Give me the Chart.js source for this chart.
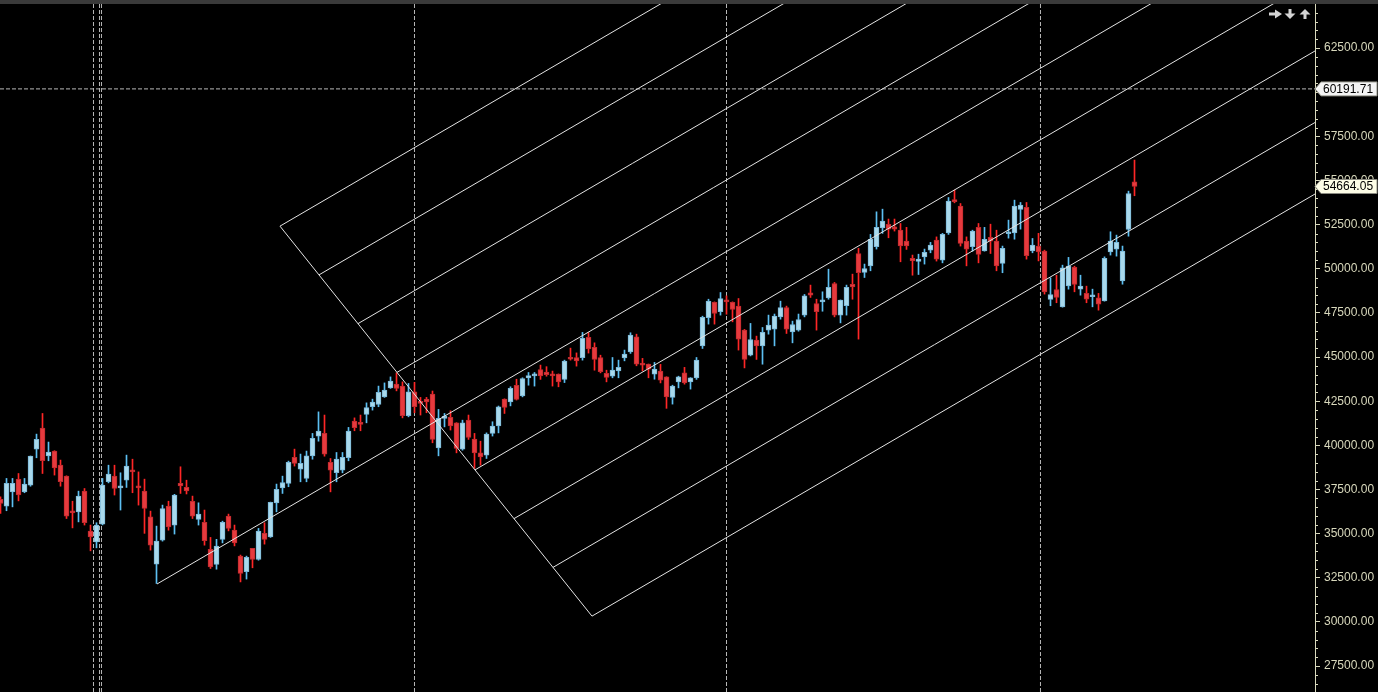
<!DOCTYPE html>
<html>
<head>
<meta charset="utf-8">
<script src="https://cdn.jsdelivr.net/npm/chart.js@4.4.1/dist/chart.umd.min.js"></script>
<style>
    html, body { margin: 0; padding: 0; background: #000; }
    #wrap { width: 1378px; height: 692px; }
</style>
</head>
<body>
<div id="wrap"><canvas id="priceChart" width="1378" height="692"></canvas></div>
<script>
// Candles, one per bar index 0..189
const OPEN = [
    36940, 36560, 37370, 38090, 37370, 37750, 39790, 40980, 39410, 39680,
    38880, 38260, 36300, 36240, 37410, 35150, 34540, 35540, 37940, 38260,
    37600, 38030, 38600, 37690, 37410, 35960, 33280, 34640, 36560, 35490,
    37850, 37620, 36840, 35810, 35640, 34110, 33260, 34680, 36000, 35200,
    33730, 32850, 34170, 33540, 35020, 34820, 36750, 37600, 37850, 39320,
    38660, 38130, 39410, 40530, 40680, 39040, 38450, 38600, 39300, 41380,
    41260, 41760, 42190, 42320, 42750, 43260, 43470, 43360, 41680, 43040,
    42470, 42620, 42910, 39860, 41530, 41590, 41280, 39790, 41430, 40360,
    39580, 39450, 40680, 41110, 42620, 42470, 43410, 42810, 43830, 43940,
    44300, 44150, 44040, 44040, 43740, 44980, 44980, 44970, 46120, 45550,
    44980, 44080, 43920, 44220, 44960, 45300, 46150, 44640, 44600, 44040,
    44210, 43880, 42720, 43600, 44110, 43600, 43830, 45640, 47230, 48100,
    47570, 48230, 48100, 47890, 46530, 45110, 45960, 45640, 46530, 46590,
    47280, 47810, 46430, 46530, 47380, 48640, 48040, 48130, 48360, 49170,
    47380, 47910, 49130, 50870, 49800, 50170, 51250, 52320, 52520, 52380,
    52190, 51570, 50590, 50420, 50680, 51060, 51630, 50490, 52040, 53930,
    53550, 51570, 51250, 52350, 51020, 51780, 51570, 50310, 51990, 52040,
    53370, 53480, 51020, 51290, 51000, 48270, 48830, 47850, 49040, 50080,
    48850, 48610, 48420, 48360, 48190, 50960, 51120, 49320, 52230, 54930
];
const HIGH = [
    37090, 38130, 38130, 38410, 38130, 39400, 40640, 41810, 40190, 39700,
    39170, 38280, 36840, 37410, 37560, 35490, 35620, 38130, 38880, 38880,
    38450, 39450, 39220, 38500, 38090, 36280, 35430, 36620, 36840, 37230,
    38790, 38030, 37130, 36750, 36340, 34790, 34680, 35710, 36110, 35490,
    33790, 33730, 34170, 35300, 35620, 36790, 37810, 38260, 39110, 39790,
    39510, 39680, 40680, 41900, 41720, 39260, 39600, 39600, 41020, 41560,
    41720, 42410, 42620, 43360, 43540, 43880, 44110, 43600, 43510, 43570,
    42720, 42720, 43080, 42040, 41810, 41960, 41290, 41430, 41720, 40680,
    40240, 40710, 41340, 42230, 42640, 43320, 43750, 43830, 44130, 44130,
    44550, 44460, 44210, 44050, 44830, 45510, 45240, 46400, 46390, 45810,
    45110, 44260, 44980, 44830, 45400, 46380, 46300, 44930, 44610, 44700,
    44590, 43890, 43410, 43920, 44420, 43840, 44980, 47320, 48280, 48130,
    48660, 48470, 48130, 48320, 46570, 46910, 46190, 46680, 47380, 47440,
    48170, 47890, 47040, 47440, 48550, 49080, 48280, 48700, 49980, 49230,
    48240, 49080, 49700, 51160, 50270, 51950, 53230, 53380, 52820, 52820,
    52570, 52350, 50780, 50830, 51120, 51500, 51810, 52010, 54040, 54460,
    53700, 51810, 52190, 52570, 52350, 52530, 52190, 51290, 52760, 53890,
    53760, 53760, 51720, 52010, 51060, 49490, 49640, 50210, 50650, 50150,
    49640, 49020, 48850, 48610, 50680, 52100, 51910, 51290, 54400, 56160
];
const LOW = [
    36150, 36300, 36520, 36860, 37320, 37690, 39300, 38410, 39130, 38320,
    37690, 35860, 35330, 35670, 35490, 34030, 34200, 35500, 37880, 37190,
    36340, 37620, 37320, 36620, 35020, 34070, 32180, 34580, 35200, 34980,
    37280, 37250, 35860, 35490, 34350, 33030, 32990, 34480, 35160, 34310,
    32270, 32430, 33070, 33500, 34410, 34790, 36240, 37280, 37660, 38830,
    37940, 37940, 39220, 40240, 39390, 37370, 37940, 38450, 39130, 40830,
    40830, 41280, 42000, 42190, 42720, 43230, 43090, 41560, 41620, 41850,
    41720, 41850, 40150, 39410, 41050, 40870, 39580, 39730, 40340, 38700,
    38880, 39260, 40530, 40710, 41810, 42240, 42570, 42750, 43410, 43360,
    43740, 43920, 43360, 43320, 43560, 44830, 44490, 44830, 45230, 44260,
    44110, 43600, 43830, 43830, 44790, 45210, 44510, 44220, 43830, 43750,
    43540, 42100, 42340, 43260, 43470, 43190, 43740, 45490, 46870, 46870,
    47380, 47430, 47000, 45400, 44390, 45070, 44870, 44600, 46300, 45640,
    47150, 46340, 45810, 46470, 47280, 48380, 46530, 47600, 48280, 47280,
    46940, 47380, 48280, 46020, 49510, 49890, 51120, 52010, 51760, 52140,
    50400, 51100, 49640, 49680, 50270, 50910, 50440, 50340, 51950, 53740,
    51290, 50170, 51000, 50340, 51000, 50870, 49890, 49780, 51740, 51680,
    52250, 50550, 50910, 50450, 48570, 47910, 48080, 47830, 48850, 48700,
    48510, 48080, 47850, 47660, 48170, 50780, 50720, 49130, 51850, 54140
];
const CLOSE = [
    36710, 37850, 37850, 37190, 37810, 39390, 40340, 39130, 39620, 38730,
    37940, 36000, 36180, 37130, 35620, 34820, 35490, 37750, 38370, 37560,
    37690, 38830, 38500, 37600, 36430, 34350, 34580, 36430, 35390, 37190,
    37710, 37430, 36000, 36110, 34600, 33120, 34300, 35640, 35300, 34480,
    32750, 33660, 33540, 35150, 34680, 36770, 37510, 37900, 39040, 38980,
    38980, 39410, 40400, 40810, 39510, 38600, 39220, 39320, 40810, 41000,
    41190, 42150, 42450, 43000, 43130, 43640, 43230, 41680, 43040, 42190,
    42380, 42470, 40340, 41530, 41620, 41110, 39830, 41280, 40450, 39580,
    39350, 40640, 41090, 42190, 42150, 43230, 42610, 43790, 43960, 44040,
    43940, 44010, 43940, 43600, 44770, 44880, 44790, 46060, 45470, 44870,
    44170, 43850, 44260, 44420, 45170, 46250, 44600, 44550, 44320, 44320,
    43700, 42750, 43360, 43880, 43540, 43830, 44830, 47250, 48170, 47470,
    48320, 48130, 47700, 46020, 44870, 46000, 45640, 46400, 46810, 47320,
    47810, 46590, 46850, 47130, 48470, 48510, 47570, 48230, 48950, 47380,
    48230, 48950, 48980, 49780, 50020, 51670, 52350, 52700, 52250, 52250,
    51300, 51300, 50450, 50550, 50930, 51340, 50550, 51950, 53840, 53800,
    51440, 51120, 52140, 50820, 51670, 51570, 50170, 51160, 52100, 53550,
    53610, 50740, 51340, 50960, 48700, 48550, 48380, 50060, 50150, 49120,
    49020, 48280, 48510, 48000, 50590, 51570, 51500, 51000, 54270, 54664.05
];

// Price axis
const Y_MIN = 26035;
const Y_MAX = 65000;
const Y_TICKS = [27500, 30000, 32500, 35000, 37500, 40000, 42500, 45000,
                 47500, 50000, 52500, 55000, 57500, 60000, 62500];
const X_MIN = -0.0833;
const X_MAX = 219.0833;

const LEVEL_PRICE = 60191.71;   // dashed horizontal level
const LAST_PRICE = 54664.05;    // last close tag

// Vertical dashed separators (bar index)
const V_LINES = [15.5, 16.5, 16.83, 69, 121, 173.33];

// Fork: base line and the parallel rays (bar index, price)
const FORK_BASE = [[46.58, 52419], [98.58, 30332]];
const FORK_RAYS = [
    [[46.58, 52419], [196.58, 82179]],
    [[53.08, 49658], [203.08, 79418]],
    [[59.58, 46897], [209.58, 76657]],
    [[66.08, 44136], [216.08, 73896]],
    [[26.08, 32150], [222.58, 71135]],
    [[79.08, 38614], [229.08, 68374]],
    [[85.58, 35853], [235.58, 65613]],
    [[92.08, 33092], [242.08, 62852]],
    [[98.58, 30332], [248.58, 60092]]
];

const UP_FILL = '#a9d9ec';
const UP_EDGE = '#7ab8d8';
const UP_WICK = '#5cbff2';
const DOWN_FILL = '#e63a3e';
const DOWN_EDGE = '#c02a2e';
const DOWN_WICK = '#ff2626';
const AXIS_COLOR = '#d8d8bc';

function isUp(i) {
    return CLOSE[i] >= OPEN[i];
}

// Background and top strip
const backdrop = {
    id: 'backdrop',
    beforeDraw(chart) {
        const ctx = chart.ctx;
        ctx.save();
        ctx.fillStyle = '#000';
        ctx.fillRect(0, 0, chart.width, chart.height);
        ctx.fillStyle = '#3a3a3a';
        ctx.fillRect(0, 0, chart.width, 4);
        ctx.restore();
    }
};

function drawTag(ctx, x, y, text, fill) {
    ctx.beginPath();
    ctx.moveTo(x, y);
    ctx.lineTo(x + 6, y - 7);
    ctx.lineTo(x + 62, y - 7);
    ctx.lineTo(x + 62, y + 7);
    ctx.lineTo(x + 6, y + 7);
    ctx.closePath();
    ctx.fillStyle = fill;
    ctx.fill();
    ctx.strokeStyle = '#8a8a80';
    ctx.lineWidth = 1;
    ctx.stroke();
    ctx.fillStyle = '#000';
    ctx.font = '12px "Liberation Sans", Arial, sans-serif';
    ctx.textAlign = 'left';
    ctx.textBaseline = 'middle';
    ctx.fillText(text, x + 8, y + 0.5);
}

// Minor ticks, price tags and the little arrow icons
const axisExtras = {
    id: 'axisExtras',
    afterDraw(chart) {
        const ctx = chart.ctx;
        const yScale = chart.scales.y;
        const right = chart.chartArea.right;
        ctx.save();
        ctx.strokeStyle = AXIS_COLOR;
        ctx.lineWidth = 1;
        for (let v = 26500; v <= Y_MAX; v += 500) {
            if (v % 2500 === 0) continue;
            const y = Math.round(yScale.getPixelForValue(v)) + 0.5;
            ctx.beginPath();
            ctx.moveTo(right, y);
            ctx.lineTo(right + 3, y);
            ctx.stroke();
        }

        drawTag(ctx, right, yScale.getPixelForValue(LEVEL_PRICE), LEVEL_PRICE.toFixed(2), '#f4f4f4');
        drawTag(ctx, right, yScale.getPixelForValue(LAST_PRICE), LAST_PRICE.toFixed(2), '#fdfde6');

        // arrows at top right
        ctx.fillStyle = '#d4d4d4';
        ctx.fillRect(1269, 12.5, 7, 3);
        ctx.beginPath();
        ctx.moveTo(1275, 9.5); ctx.lineTo(1282, 14); ctx.lineTo(1275, 18.5);
        ctx.closePath(); ctx.fill();

        ctx.fillRect(1288.5, 9, 3, 5);
        ctx.beginPath();
        ctx.moveTo(1284.5, 13.5); ctx.lineTo(1295.5, 13.5); ctx.lineTo(1290, 19);
        ctx.closePath(); ctx.fill();

        ctx.fillRect(1303.5, 14, 3, 5);
        ctx.beginPath();
        ctx.moveTo(1299.5, 14.5); ctx.lineTo(1310.5, 14.5); ctx.lineTo(1305, 9);
        ctx.closePath(); ctx.fill();
        ctx.restore();
    }
};

function lineSet(points, color, dash, order) {
    return {
        type: 'line',
        data: points.map(p => ({ x: p[0], y: p[1] })),
        borderColor: color,
        borderWidth: 1,
        borderDash: dash,
        pointRadius: 0,
        fill: false,
        tension: 0,
        order: order
    };
}

function buildDatasets() {
    const wickData = OPEN.map((o, i) => ({ x: i, y: [LOW[i], HIGH[i]] }));
    const bodyData = OPEN.map((o, i) => ({
        x: i,
        y: [Math.min(o, CLOSE[i]), Math.max(o, CLOSE[i])]
    }));

    const sets = [];
    V_LINES.forEach(xv => {
        sets.push(lineSet([[xv, Y_MIN], [xv, Y_MAX]], '#b8b8b8', [4, 2], 5));
    });
    sets.push(lineSet([[X_MIN, LEVEL_PRICE], [X_MAX, LEVEL_PRICE]], '#b8b8b8', [4, 2], 5));

    sets.push({
        type: 'bar',
        data: wickData,
        backgroundColor: ctx => isUp(ctx.dataIndex) ? UP_WICK : DOWN_WICK,
        barThickness: 1,
        grouped: false,
        order: 3
    });
    sets.push({
        type: 'bar',
        data: bodyData,
        backgroundColor: ctx => isUp(ctx.dataIndex) ? UP_FILL : DOWN_FILL,
        borderColor: ctx => isUp(ctx.dataIndex) ? UP_EDGE : DOWN_EDGE,
        borderWidth: 1,
        borderSkipped: false,
        barThickness: 5,
        minBarLength: 2,
        grouped: false,
        order: 2
    });

    sets.push(lineSet(FORK_BASE, '#e4e4e4', [], 1));
    FORK_RAYS.forEach(r => sets.push(lineSet(r, '#e4e4e4', [], 1)));
    return sets;
}

Chart.defaults.font.family = '"Liberation Sans", Arial, sans-serif';
Chart.defaults.font.size = 12;
Chart.defaults.color = AXIS_COLOR;

const priceChart = new Chart(document.getElementById('priceChart'), {
    type: 'bar',
    data: { datasets: buildDatasets() },
    options: {
        responsive: false,
        animation: false,
        events: [],
        layout: { padding: { top: 4, left: 0, right: 0, bottom: 0 } },
        plugins: {
            legend: { display: false },
            title: { display: false },
            tooltip: { enabled: false }
        },
        scales: {
            x: {
                type: 'linear',
                display: false,
                min: X_MIN,
                max: X_MAX,
                offset: false
            },
            y: {
                type: 'linear',
                position: 'right',
                min: Y_MIN,
                max: Y_MAX,
                afterBuildTicks: scale => {
                    scale.ticks = Y_TICKS.map(v => ({ value: v }));
                },
                afterFit: scale => {
                    scale.width = 63;
                    // the labels may overhang; keep the plot full height
                    scale.paddingTop = 0;
                    scale.paddingBottom = 0;
                },
                border: { display: true, color: AXIS_COLOR, width: 1 },
                grid: {
                    display: true,
                    drawOnChartArea: false,
                    drawTicks: true,
                    tickLength: 5,
                    color: AXIS_COLOR
                },
                ticks: {
                    padding: 4,
                    color: AXIS_COLOR,
                    callback: v => Number(v).toFixed(2)
                }
            }
        }
    },
    plugins: [backdrop, axisExtras]
});
</script>
</body>
</html>
